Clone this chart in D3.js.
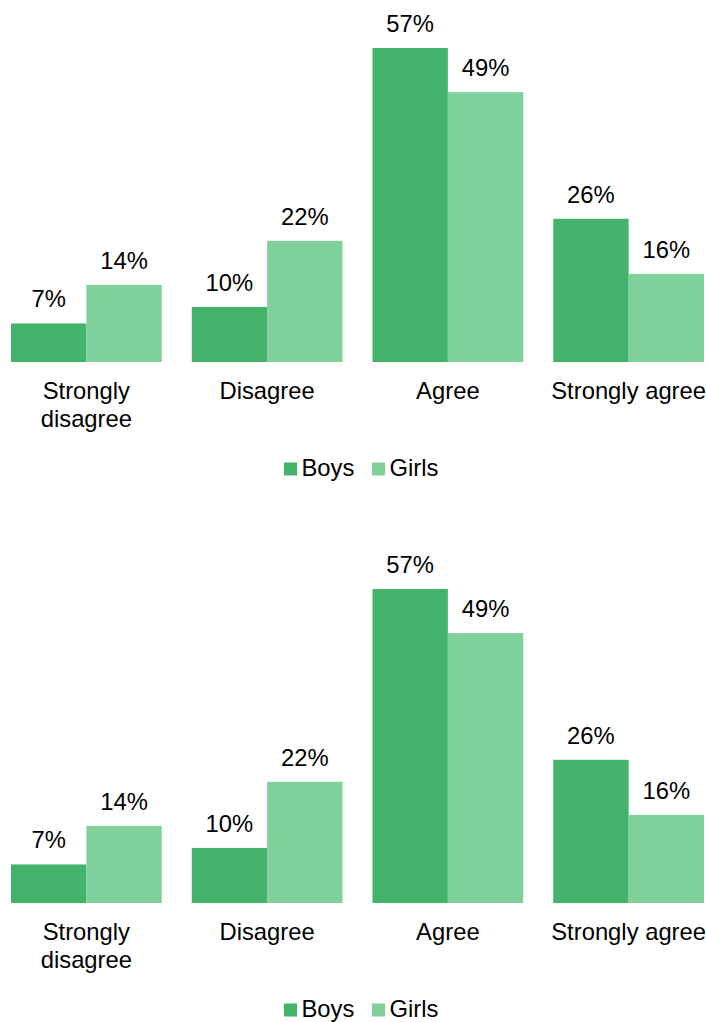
<!DOCTYPE html>
<html>
<head>
<meta charset="utf-8">
<script src="https://cdn.jsdelivr.net/npm/d3@7"></script>
<style>
  html, body { margin: 0; padding: 0; background: #fff; }
  svg { display: block; font-family: "Liberation Sans", Arial, sans-serif; }
</style>
</head>
<body>
<svg id="chart" width="706" height="1022"></svg>
<script>
// Survey responses by gender (percent)
const categories = [["Strongly", "disagree"], ["Disagree"], ["Agree"], ["Strongly agree"]];
const seriesNames = ["Boys", "Girls"];
const boys = [7, 10, 57, 26];
const girls = [14, 22, 49, 16];
const colors = ["#43b36c", "#80d09b"];

const svg = d3.select("#chart");
const fontSize = 23.8;

const keys = categories.map(c => c.join(" "));
const rows = keys.map((k, i) => ({ key: k, lines: categories[i], values: [boys[i], girls[i]] }));

function drawChart(top) {
  const g = svg.append("g").attr("transform", `translate(0,${top})`);
  const baseY = 362;

  const x0 = d3.scaleBand().domain(keys).range([11, 704]).paddingInner(0.166).paddingOuter(0);
  const x1 = d3.scaleBand().domain(seriesNames).range([0, x0.bandwidth()]).padding(0);
  const y = d3.scaleLinear().domain([0, 60]).range([baseY, baseY - 330.5]);

  const grp = g.selectAll(".grp").data(rows).join("g")
    .attr("class", "grp")
    .attr("transform", d => `translate(${x0(d.key)},0)`);

  const bars = grp.selectAll(".bar")
    .data(d => d.values.map((v, j) => ({ name: seriesNames[j], v, j })))
    .join("g").attr("class", "bar");

  bars.append("rect")
    .attr("x", d => x1(d.name))
    .attr("y", d => y(d.v))
    .attr("width", x1.bandwidth())
    .attr("height", d => y(0) - y(d.v))
    .attr("fill", d => colors[d.j]);

  bars.append("text")
    .attr("x", d => x1(d.name) + x1.bandwidth() / 2)
    .attr("y", d => y(d.v) - 16)
    .attr("text-anchor", "middle")
    .attr("font-size", fontSize)
    .attr("fill", "#000")
    .text(d => d.v + "%");

  // category labels (may wrap onto two lines)
  grp.append("text")
    .attr("x", x0.bandwidth() / 2)
    .attr("y", baseY + 37)
    .attr("text-anchor", "middle")
    .attr("font-size", fontSize)
    .attr("fill", "#000")
    .selectAll("tspan")
    .data(d => d.lines)
    .join("tspan")
    .attr("x", x0.bandwidth() / 2)
    .attr("dy", (d, i) => i === 0 ? 0 : 27.5)
    .text(d => d);

  // legend
  const leg = g.append("g").attr("transform", `translate(0,${baseY + 114})`);
  const items = [{ name: "Boys", x: 284 }, { name: "Girls", x: 372 }];
  items.forEach((it, i) => {
    leg.append("rect")
      .attr("x", it.x).attr("y", -13.5)
      .attr("width", 13).attr("height", 13)
      .attr("fill", colors[i]);
    leg.append("text")
      .attr("x", it.x + 17.5).attr("y", 0)
      .attr("font-size", fontSize)
      .attr("fill", "#000")
      .text(seriesNames[i]);
  });
}

drawChart(0);
drawChart(541);
</script>
</body>
</html>
